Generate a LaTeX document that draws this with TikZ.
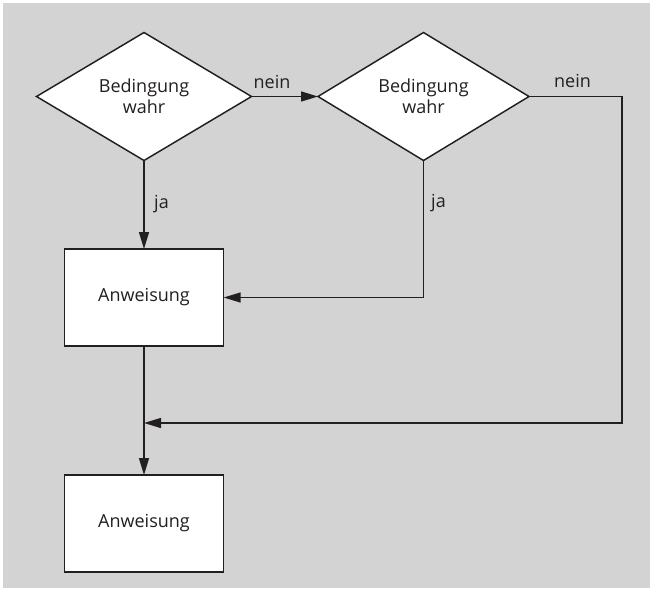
\documentclass[tikz,border=0pt]{standalone}
\usepackage{fontspec}
\setmainfont{Open Sans}
\usetikzlibrary{shapes.geometric,arrows.meta}
\definecolor{bgray}{HTML}{D3D3D3}
\definecolor{ink}{HTML}{231F20}
\begin{document}
\begin{tikzpicture}[x=0.75pt,y=-0.75pt,
  every node/.style={font=\fontsize{13.5}{16}\selectfont, text=ink},
  decision/.style={diamond, draw=ink, fill=white, line width=1.1pt,
    inner sep=0pt, outer sep=0pt, align=center,
    minimum height=96pt},
  stmt/.style={rectangle, draw=ink, fill=white, line width=1.1pt,
    inner sep=0pt, outer sep=0pt, minimum width=119.5pt, minimum height=72.75pt},
  flow/.style={draw=ink, line width=1.1pt,
    -{Triangle[length=12.75pt,width=7.5pt]}},
  lbl/.style={anchor=base, inner sep=0pt}]
  \useasboundingbox (0,0) rectangle (650,589);
  \fill[bgray] (3,3) rectangle (650,588);

  % two decisions side by side
  \node[decision, minimum width=161.25pt] (d1) at (144,96.5) {Bedingung\\wahr};
  \node[decision, minimum width=158.25pt] (d2) at (423.5,96.5) {Bedingung\\wahr};

  % statements
  \node[stmt] (s1) at (144,297.5) {Anweisung};
  \node[stmt] (s2) at (144,523.5) {Anweisung};

  % junction points of the bypass line
  \coordinate (r1) at (622,96.5);
  \coordinate (r2) at (622,423);
  \coordinate (m) at (144,423);

  % connectors
  \draw[flow] (d1.south) -- (s1.north);
  \draw[flow] (d1.east) -- (d2.west);
  \draw[flow] (d2.south) |- (s1.east);
  \draw[flow] (s1.south) -- (s2.north);
  \draw[flow] (d2.east) -- (r1) -- (r2) -- (m);

  % branch labels
  \node[lbl] (n1) at (272,88) {nein};
  \node[lbl] (n2) at (572.5,87) {nein};
  \node[lbl] (j1) at (161.5,208) {ja};
  \node[lbl] (j2) at (438.5,207) {ja};
\end{tikzpicture}
\end{document}
